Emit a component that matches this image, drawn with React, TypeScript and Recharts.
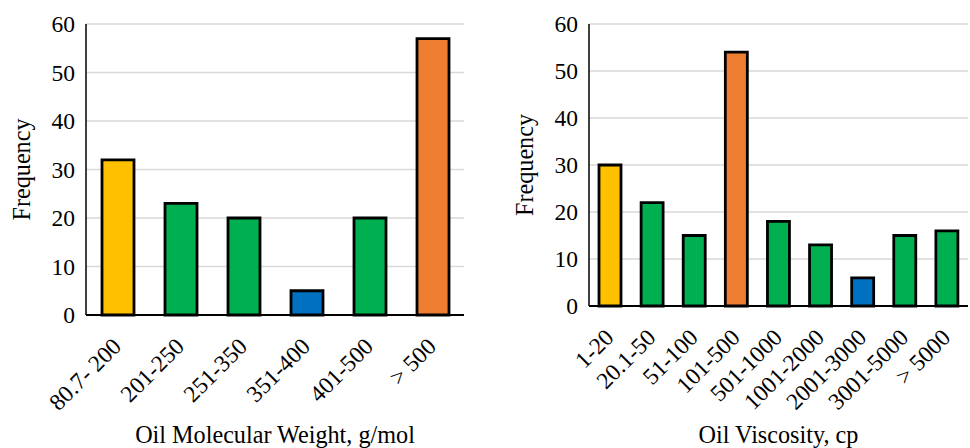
import { BarChart, Bar, XAxis, YAxis, CartesianGrid, Cell, Label } from "recharts";

// Oil molecular weight, g/mol
const mwRanges = ["80.7- 200", "201-250", "251-350", "351-400", "401-500", "> 500"];
const mwFrequency = [32, 23, 20, 5, 20, 57];

// Oil viscosity, cp
const viscRanges = ["1-20", "20.1-50", "51-100", "101-500", "501-1000", "1001-2000", "2001-3000", "3001-5000", "> 5000"];
const viscFrequency = [30, 22, 15, 54, 18, 13, 6, 15, 16];

const yTicks = [0, 10, 20, 30, 40, 50, 60];

const FONT = "Liberation Serif";
const FS = 23.5;
const TITLE_FS = 24.2;

// first bin yellow, peak orange, lowest blue, rest green
const barColor = (vals: number[], i: number) => {
  if (i === 0) return "#FFC000";
  if (vals[i] === Math.max(...vals)) return "#ED7D31";
  if (vals[i] === Math.min(...vals)) return "#0070C0";
  return "#00B050";
};

const AngledTick = (props: any) => {
  const { x, y, payload } = props;
  const tx = x + 5;
  const ty = y + 25;
  return (
    <text
      x={tx}
      y={ty}
      transform={`rotate(-45 ${tx} ${ty})`}
      textAnchor="end"
      style={{ fontSize: FS, fontFamily: FONT }}
      fill="#000"
    >
      {payload.value}
    </text>
  );
};

const LeftTick = (props: any) => {
  const { x, y, payload } = props;
  return (
    <text x={x} y={y} dy={8} textAnchor="end" style={{ fontSize: FS, fontFamily: FONT }} fill="#000">
      {payload.value}
    </text>
  );
};

interface HistProps {
  labels: string[];
  values: number[];
  title: string;
  yAxisWidth: number;
  xAxisHeight: number;
  rightMargin: number;
  barSize: number;
  yLabelX: number;
}

function Histogram({ labels, values, title, yAxisWidth, xAxisHeight, rightMargin, barSize, yLabelX }: HistProps) {
  const data = labels.map((name, i) => ({ name, value: values[i] }));
  return (
    <BarChart
      width={485}
      height={448}
      data={data}
      margin={{ top: 24, right: rightMargin, bottom: 0, left: 0 }}
    >
      <CartesianGrid vertical={false} stroke="#d9d9d9" strokeWidth={1.5} />
      <XAxis
        dataKey="name"
        interval={0}
        height={xAxisHeight}
        tickLine={false}
        axisLine={{ stroke: "#000", strokeWidth: 2 }}
        tick={<AngledTick />}
      >
        <Label
          value={title}
          position="insideBottom"
          offset={5}
          style={{ fontSize: TITLE_FS, fontFamily: FONT, fill: "#000" }}
        />
      </XAxis>
      <XAxis xAxisId="top" orientation="top" height={0} tick={false} tickLine={false}
        axisLine={{ stroke: "#000", strokeWidth: 1.5 }} />
      <YAxis
        domain={[0, 60]}
        ticks={yTicks}
        width={yAxisWidth}
        tickLine={false}
        tickSize={0}
        tickMargin={11}
        axisLine={{ stroke: "#000", strokeWidth: 1.5 }}
        tick={<LeftTick />}
      >
        <Label
          content={({ viewBox }: any) => {
            const cx = viewBox.x + yLabelX;
            const cy = viewBox.y + viewBox.height / 2;
            return (
              <text
                x={cx}
                y={cy}
                transform={`rotate(-90 ${cx} ${cy})`}
                textAnchor="middle"
                style={{ fontSize: TITLE_FS, fontFamily: FONT }}
                fill="#000"
              >
                Frequency
              </text>
            );
          }}
        />
      </YAxis>
      <YAxis yAxisId="right" orientation="right" width={0} domain={[0, 60]} tick={false}
        tickLine={false} axisLine={{ stroke: "#000", strokeWidth: 1.5 }} />
      <Bar dataKey="value" barSize={barSize} stroke="#000" strokeWidth={2.8} isAnimationActive={false}>
        {data.map((_, i) => (
          <Cell key={i} fill={barColor(values, i)} />
        ))}
      </Bar>
    </BarChart>
  );
}

export default function App() {
  return (
    <div style={{ position: "absolute", left: 0, top: 0, width: 970, height: 448, background: "#fff", display: "flex" }}>
      <Histogram
        labels={mwRanges}
        values={mwFrequency}
        title="Oil Molecular Weight, g/mol"
        yAxisWidth={86}
        xAxisHeight={133}
        rightMargin={21}
        barSize={32}
        yLabelX={30}
      />
      <Histogram
        labels={viscRanges}
        values={viscFrequency}
        title="Oil Viscosity, cp"
        yAxisWidth={104}
        xAxisHeight={142}
        rightMargin={2}
        barSize={22}
        yLabelX={48}
      />
    </div>
  );
}
